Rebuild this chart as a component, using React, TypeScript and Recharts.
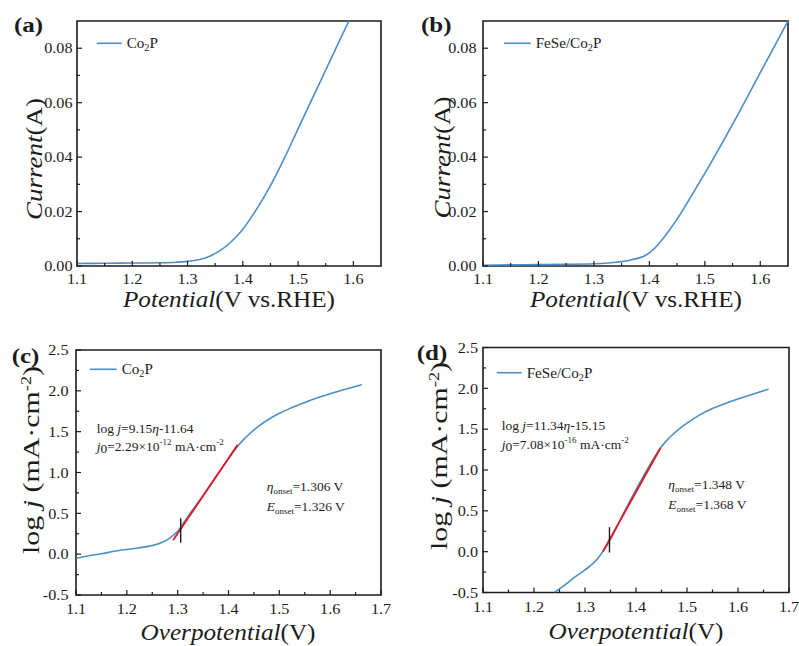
import React from "react";
import { LineChart, Line, XAxis, YAxis, ReferenceArea, ReferenceLine } from "recharts";

const FONT = '"Liberation Serif", "Times New Roman", Times, serif';
const BLUE = "#4b8ec8";
const RED = "#e3161d";
const INK = "#1c1c1c";

// (a) Co2P polarisation curve
const CO2P_LSV_V = [1.1, 1.15, 1.2, 1.25, 1.28, 1.3, 1.32, 1.34, 1.36, 1.38, 1.4, 1.425, 1.45, 1.475, 1.5, 1.525, 1.55, 1.575, 1.592];
const CO2P_LSV_I = [0.0009, 0.001, 0.0011, 0.0012, 0.0014, 0.0017, 0.0023, 0.0036, 0.0058, 0.0091, 0.0135, 0.0209, 0.0295, 0.0395, 0.0504, 0.0612, 0.072, 0.0828, 0.09];

// (b) FeSe/Co2P polarisation curve
const FESE_LSV_V = [1.1, 1.15, 1.2, 1.25, 1.3, 1.33, 1.35, 1.37, 1.39, 1.4, 1.41, 1.42, 1.43, 1.45, 1.475, 1.5, 1.55, 1.6, 1.65];
const FESE_LSV_I = [0.0003, 0.0004, 0.0005, 0.0006, 0.0008, 0.0012, 0.0016, 0.0024, 0.0036, 0.0048, 0.0066, 0.0089, 0.0115, 0.0172, 0.0255, 0.034, 0.052, 0.071, 0.09];

// (c) Co2P Tafel
const CO2P_TAFEL_ETA = [1.1, 1.125, 1.15, 1.175, 1.2, 1.225, 1.25, 1.27, 1.285, 1.3, 1.32, 1.35, 1.38, 1.4, 1.418, 1.43, 1.44, 1.46, 1.48, 1.5, 1.525, 1.55, 1.575, 1.6, 1.63, 1.662];
const CO2P_TAFEL_LOGJ = [-0.05, -0.02, 0.005, 0.035, 0.058, 0.078, 0.105, 0.145, 0.2, 0.28, 0.46, 0.72, 0.99, 1.17, 1.32, 1.405, 1.465, 1.57, 1.655, 1.725, 1.795, 1.858, 1.915, 1.965, 2.02, 2.075];
const CO2P_FIT_ETA = [1.291, 1.418];
const CO2P_FIT_LOGJ = [0.17, 1.34];
const CO2P_ONSET_ETA = 1.306;
const CO2P_ONSET_SPAN = [0.14, 0.44];

// (d) FeSe/Co2P Tafel
const FESE_TAFEL_ETA = [1.24, 1.26, 1.2766, 1.3, 1.3225, 1.335, 1.348, 1.374, 1.4, 1.427, 1.448, 1.46, 1.472, 1.485, 1.5, 1.525, 1.551, 1.575, 1.6, 1.63, 1.66];
const FESE_TAFEL_LOGJ = [-0.5, -0.41, -0.326, -0.224, -0.102, 0.0, 0.13, 0.45, 0.76, 1.06, 1.27, 1.36, 1.435, 1.505, 1.574, 1.675, 1.755, 1.815, 1.868, 1.93, 1.99];
const FESE_FIT_ETA = [1.335, 1.448];
const FESE_FIT_LOGJ = [0.0, 1.27];
const FESE_ONSET_ETA = 1.348;
const FESE_ONSET_SPAN = [-0.01, 0.3];

// ticks
const LSV_X_MAJOR = [1.1, 1.2, 1.3, 1.4, 1.5, 1.6];
const LSV_X_MINOR = [1.15, 1.25, 1.35, 1.45, 1.55];
const LSV_Y_MAJOR = [0, 0.02, 0.04, 0.06, 0.08];
const LSV_Y_MINOR = [0.01, 0.03, 0.05, 0.07];
const TAFEL_X_MAJOR = [1.1, 1.2, 1.3, 1.4, 1.5, 1.6, 1.7];
const TAFEL_X_MINOR = [1.15, 1.25, 1.35, 1.45, 1.55, 1.65];
const TAFEL_Y_MAJOR = [-0.5, 0, 0.5, 1, 1.5, 2, 2.5];
const TAFEL_Y_MINOR = [-0.25, 0.25, 0.75, 1.25, 1.75, 2.25];

const zip = (xs: number[], ys: number[]) => xs.map((x, i) => ({ x, y: ys[i] }));
const isIn = (list: number[], v: number) => list.some((m) => Math.abs(m - v) < 1e-6);
const merged = (a: number[], b: number[]) => [...a, ...b].sort((p, q) => p - q);

function XTick(props: any) {
  const { x, y, payload, major, gap } = props;
  const big = isIn(major, payload.value);
  return (
    <g>
      <line x1={x} x2={x} y1={y} y2={y - (big ? 5 : 3)} stroke={INK} strokeWidth={1.2} />
      {big && (
        <text transform={`translate(${x},${y + gap}) scale(1.08,1)`} textAnchor="middle" fontSize={15} fontFamily={FONT} fill={INK}>
          {payload.value.toFixed(1)}
        </text>
      )}
    </g>
  );
}

function YTick(props: any) {
  const { x, y, payload, major, gap, digits } = props;
  const big = isIn(major, payload.value);
  return (
    <g>
      <line x1={x} x2={x + (big ? 5 : 3)} y1={y} y2={y} stroke={INK} strokeWidth={1.2} />
      {big && (
        <text transform={`translate(${x - gap},${y + 5.2}) scale(1.08,1)`} textAnchor="end" fontSize={15} fontFamily={FONT} fill={INK}>
          {payload.value.toFixed(digits)}
        </text>
      )}
    </g>
  );
}

type PanelProps = {
  left: number; top: number; width: number; height: number;
  plot: { l: number; r: number; t: number; b: number };
  xDomain: [number, number]; yDomain: [number, number];
  xMajor: number[]; xMinor: number[]; yMajor: number[]; yMinor: number[];
  digits: number; xGap: number; yGap: number;
  curve: { x: number; y: number }[];
  fit?: { x: number; y: number }[];
  onset?: { eta: number; span: number[] };
};

function Panel(p: PanelProps) {
  return (
    <div style={{ position: "absolute", left: p.left, top: p.top }}>
      <LineChart width={p.width} height={p.height} margin={{ top: p.plot.t, right: p.width - p.plot.r, bottom: 0, left: 0 }}>
        <XAxis
          type="number" dataKey="x" domain={p.xDomain} allowDataOverflow
          ticks={merged(p.xMajor, p.xMinor)} interval={0}
          height={p.height - p.plot.b} axisLine={false} tickLine={false} tickSize={0} tickMargin={0}
          tick={(t: any) => <XTick {...t} major={p.xMajor} gap={p.xGap} />}
        />
        <YAxis
          type="number" dataKey="y" domain={p.yDomain} allowDataOverflow
          ticks={merged(p.yMajor, p.yMinor)} interval={0}
          width={p.plot.l} axisLine={false} tickLine={false} tickSize={0} tickMargin={0}
          tick={(t: any) => <YTick {...t} major={p.yMajor} gap={p.yGap} digits={p.digits} />}
        />
        <ReferenceArea x1={p.xDomain[0]} x2={p.xDomain[1]} y1={p.yDomain[0]} y2={p.yDomain[1]} fill="none" stroke={INK} strokeWidth={1.6} ifOverflow="visible" />
        <Line data={p.curve} dataKey="y" type="monotone" stroke={BLUE} strokeWidth={1.6} dot={false} isAnimationActive={false} />
        {p.fit && <Line data={p.fit} dataKey="y" type="linear" stroke={RED} strokeWidth={1.8} dot={false} isAnimationActive={false} />}
        {p.onset && (
          <ReferenceLine segment={[{ x: p.onset.eta, y: p.onset.span[0] }, { x: p.onset.eta, y: p.onset.span[1] }]} stroke={INK} strokeWidth={1.4} />
        )}
      </LineChart>
    </div>
  );
}

function T(props: any) {
  const { x, y, size, sx = 1, anchor = "start", weight, rotate, len, children } = props;
  const tf = `translate(${x},${y})${rotate ? ` rotate(${rotate})` : ""} scale(${sx},1)`;
  return (
    <text transform={tf} fontSize={size} fontFamily={FONT} fill={INK} textAnchor={anchor} fontWeight={weight}
      textLength={len} lengthAdjust={len ? "spacingAndGlyphs" : undefined}>
      {children}
    </text>
  );
}

function LegendKey({ x1, x2, y, label }: { x1: number; x2: number; y: number; label: string }) {
  const pre = label.split("Co")[0];
  return (
    <g>
      <line x1={x1} x2={x2} y1={y} y2={y} stroke={BLUE} strokeWidth={1.6} />
      <T x={x2 + 5} y={y + 4.8} size={14} sx={1.08}>
        {pre}Co<tspan dy={3} fontSize={9.5}>2</tspan><tspan dy={-3}>P</tspan>
      </T>
    </g>
  );
}

function Onset({ x, y, sym, value }: { x: number; y: number; sym: string; value: string }) {
  return (
    <T x={x} y={y} size={13.5}>
      <tspan fontStyle="italic">{sym}</tspan><tspan dy={3} fontSize={9}>onset</tspan><tspan dy={-3}>={value} V</tspan>
    </T>
  );
}

function Fit({ x, y, slope, icpt, j0, exp }: { x: number; y: number; slope: string; icpt: string; j0: string; exp: string }) {
  return (
    <g>
      <T x={x} y={y} size={13.5}>log <tspan fontStyle="italic">j</tspan>={slope}<tspan fontStyle="italic">η</tspan>-{icpt}</T>
      <T x={x} y={y + 18.5} size={13.5}>
        <tspan fontStyle="italic">j</tspan><tspan dy={2}>0</tspan><tspan dy={-2}>={j0}×10</tspan><tspan dy={-6} fontSize={9}>{exp}</tspan><tspan dy={6}> mA·cm</tspan><tspan dy={-6} fontSize={9}>-2</tspan>
      </T>
    </g>
  );
}

export default function App() {
  return (
    <div style={{ position: "absolute", left: 0, top: 0, width: 799, height: 646, background: "#fff", fontFamily: FONT }}>
      <Panel left={0} top={0} width={400} height={320} plot={{ l: 77, r: 381, t: 21, b: 266 }}
        xDomain={[1.1, 1.65]} yDomain={[0, 0.09]} xMajor={LSV_X_MAJOR} xMinor={LSV_X_MINOR}
        yMajor={LSV_Y_MAJOR} yMinor={LSV_Y_MINOR} digits={2} xGap={18} yGap={4.5}
        curve={zip(CO2P_LSV_V, CO2P_LSV_I)} />
      <Panel left={400} top={0} width={399} height={320} plot={{ l: 83, r: 388, t: 21, b: 266 }}
        xDomain={[1.1, 1.65]} yDomain={[0, 0.09]} xMajor={LSV_X_MAJOR} xMinor={LSV_X_MINOR}
        yMajor={LSV_Y_MAJOR} yMinor={LSV_Y_MINOR} digits={2} xGap={18} yGap={6.5}
        curve={zip(FESE_LSV_V, FESE_LSV_I)} />
      <Panel left={0} top={320} width={400} height={326} plot={{ l: 76, r: 381, t: 30, b: 275 }}
        xDomain={[1.1, 1.7]} yDomain={[-0.5, 2.5]} xMajor={TAFEL_X_MAJOR} xMinor={TAFEL_X_MINOR}
        yMajor={TAFEL_Y_MAJOR} yMinor={TAFEL_Y_MINOR} digits={1} xGap={19} yGap={7.5}
        curve={zip(CO2P_TAFEL_ETA, CO2P_TAFEL_LOGJ)} fit={zip(CO2P_FIT_ETA, CO2P_FIT_LOGJ)}
        onset={{ eta: CO2P_ONSET_ETA, span: CO2P_ONSET_SPAN }} />
      <Panel left={400} top={320} width={399} height={326} plot={{ l: 83, r: 389, t: 27.5, b: 272.5 }}
        xDomain={[1.1, 1.7]} yDomain={[-0.5, 2.5]} xMajor={TAFEL_X_MAJOR} xMinor={TAFEL_X_MINOR}
        yMajor={TAFEL_Y_MAJOR} yMinor={TAFEL_Y_MINOR} digits={1} xGap={19} yGap={5}
        curve={zip(FESE_TAFEL_ETA, FESE_TAFEL_LOGJ)} fit={zip(FESE_FIT_ETA, FESE_FIT_LOGJ)}
        onset={{ eta: FESE_ONSET_ETA, span: FESE_ONSET_SPAN }} />

      <svg width={799} height={646} style={{ position: "absolute", left: 0, top: 0, pointerEvents: "none" }}>
        {/* panel letters */}
        <T x={14} y={31.5} size={20} sx={1.25} weight="bold">(a)</T>
        <T x={421} y={31.5} size={20} sx={1.25} weight="bold">(b)</T>
        <T x={11.7} y={363} size={20} sx={1.25} weight="bold">(c)</T>
        <T x={416.7} y={359.5} size={20} sx={1.25} weight="bold">(d)</T>

        {/* axis titles */}
        <T x={229} y={306.5} size={24} anchor="middle" len={212}><tspan fontStyle="italic">Potential</tspan>(V vs.RHE)</T>
        <T x={636} y={306.5} size={24} anchor="middle" len={212}><tspan fontStyle="italic">Potential</tspan>(V vs.RHE)</T>
        <T x={228} y={640} size={24} anchor="middle" len={175}><tspan fontStyle="italic">Overpotential</tspan>(V)</T>
        <T x={636} y={639} size={24} anchor="middle" len={175}><tspan fontStyle="italic">Overpotential</tspan>(V)</T>
        <T x={42} y={159} size={24} anchor="middle" rotate={-90} len={122}><tspan fontStyle="italic">Current</tspan>(A)</T>
        <T x={450} y={157.5} size={24} anchor="middle" rotate={-90} len={122}><tspan fontStyle="italic">Current</tspan>(A)</T>
        <T x={39} y={460} size={23} anchor="middle" rotate={-90} len={188}>
          log <tspan fontStyle="italic">j</tspan> (mA·cm<tspan dy={-8} fontSize={14}>-2</tspan><tspan dy={8}>)</tspan>
        </T>
        <T x={447} y={456} size={23} anchor="middle" rotate={-90} len={188}>
          log <tspan fontStyle="italic">j</tspan> (mA·cm<tspan dy={-8} fontSize={14}>-2</tspan><tspan dy={8}>)</tspan>
        </T>

        {/* legends */}
        <LegendKey x1={96.7} x2={121.7} y={43.3} label="Co2P" />
        <LegendKey x1={504} x2={530.7} y={43.3} label="FeSe/Co2P" />
        <LegendKey x1={90} x2={116.7} y={369.3} label="Co2P" />
        <LegendKey x1={496.7} x2={521.7} y={372.7} label="FeSe/Co2P" />

        {/* Tafel fit annotations */}
        <Fit x={96.7} y={432.7} slope="9.15" icpt="11.64" j0="2.29" exp="-12" />
        <Onset x={266.7} y={490.7} sym="η" value="1.306" />
        <Onset x={266.7} y={510.7} sym="E" value="1.326" />
        <Fit x={501.7} y={430} slope="11.34" icpt="15.15" j0="7.08" exp="-16" />
        <Onset x={668.3} y={489} sym="η" value="1.348" />
        <Onset x={668.3} y={509} sym="E" value="1.368" />
      </svg>
    </div>
  );
}
